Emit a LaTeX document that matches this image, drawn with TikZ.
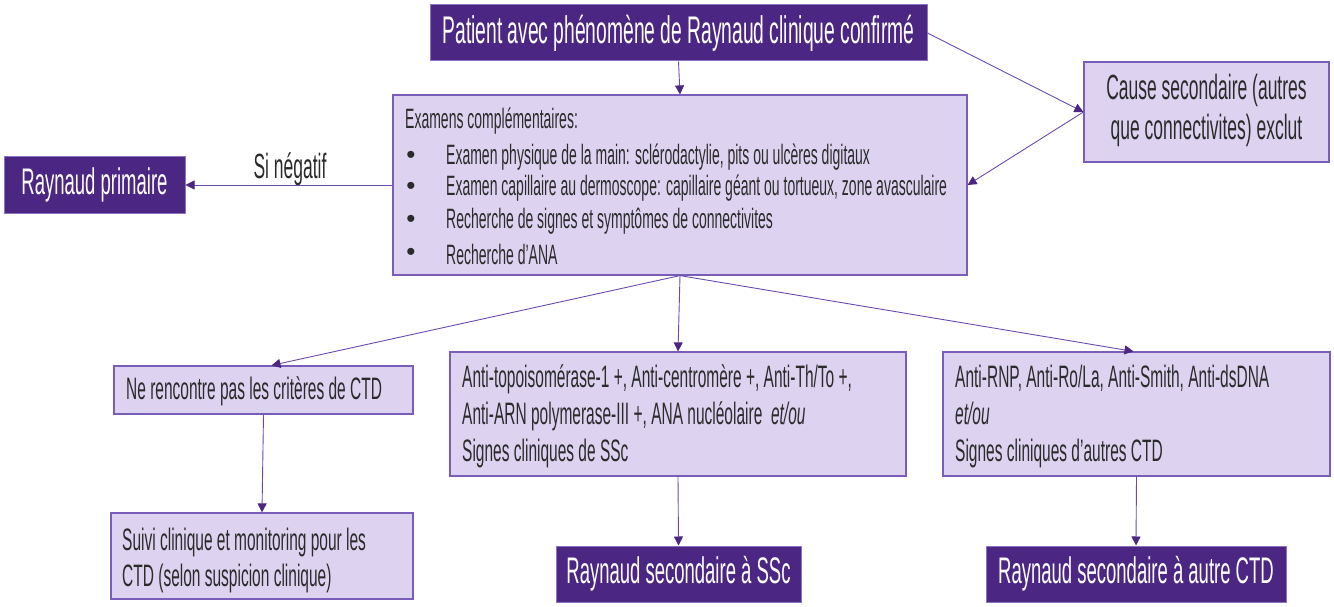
\documentclass[tikz,border=0pt]{standalone}
\usepackage{fontspec}
\setmainfont{Liberation Sans}[FakeStretch=0.5]
\newfontfamily\bulletfont{Liberation Sans}
\usetikzlibrary{arrows.meta}
\definecolor{darkP}{HTML}{4B2683}
\definecolor{borderD}{HTML}{8C74C4}
\definecolor{lightP}{HTML}{DDD3F1}
\definecolor{borderL}{HTML}{7A5DB8}
\definecolor{lineC}{HTML}{6A4BAD}
\definecolor{txtC}{HTML}{2B2B2B}
\newcommand\myfs[2]{\fontsize{#1}{#2}\selectfont}
\begin{document}
\begin{tikzpicture}[x=1pt,y=-1pt,
 darkbox/.style={draw=borderD, fill=darkP, text=white, line width=1pt, inner sep=0pt},
 lightbox/.style={draw=borderL, fill=lightP, line width=1.2pt, inner sep=0pt},
 txt/.style={text=txtC, inner sep=0pt, align=left},
 bul/.style={text=txtC, inner sep=0pt, font=\bulletfont\myfs{26}{28}},
 arr/.style={draw=lineC, line width=0.9pt, -{Triangle[length=9pt,width=9pt,color=darkP]}}]
\useasboundingbox (0,0) rectangle (1334,607);

\node[darkbox, minimum width=497pt, minimum height=56pt, font=\myfs{38.5}{40}] (top) at (678.5,33) {Patient avec phénomène de Raynaud clinique confirmé};

\node[lightbox, minimum width=245pt, minimum height=100pt] (cause) at (1206.5,112) {};
\node[txt, align=center, font=\myfs{35}{40}] (causet) at ([yshift=2pt]cause.center) {Cause secondaire (autres\\que connectivites) exclut};

\node[darkbox, minimum width=181pt, minimum height=56pt, font=\myfs{37}{40}] (prim) at (94.5,185) {Raynaud primaire};

\node[lightbox, minimum width=574pt, minimum height=180pt] (exam) at (680,185) {};
\begin{scope}[every node/.style={txt, font=\myfs{28}{30}}]
\node[anchor=west] (e0) at (405,121) {Examens complémentaires:};
\node[anchor=west] (e1) at (446,157) {Examen physique de la main: sclérodactylie, pits ou ulcères digitaux};
\node[anchor=west] (e2) at (446,188) {Examen capillaire au dermoscope: capillaire géant ou tortueux, zone avasculaire};
\node[anchor=west] (e3) at (446,221) {Recherche de signes et symptômes de connectivites};
\node[anchor=west] (e4) at (446,254) {Recherche d’ANA};
\end{scope}
\node[bul] (b1) at (411,157) {•};
\node[bul] (b2) at (411,188) {•};
\node[bul] (b3) at (411,221) {•};
\node[bul] (b4) at (411,254) {•};

\node[txt, font=\myfs{35}{40}] (si) at (290,169) {Si négatif};

\node[lightbox, minimum width=299pt, minimum height=48pt] (ne) at (263.5,390) {};
\node[txt, anchor=west, font=\myfs{31}{36}] (net) at (126,391) {Ne rencontre pas les critères de CTD};

\node[lightbox, minimum width=302pt, minimum height=86pt] (suivi) at (262,556) {};
\node[txt, anchor=west, font=\myfs{31}{36}] (suivit) at (122,560) {Suivi clinique et monitoring pour les\\CTD (selon suspicion clinique)};

\node[lightbox, minimum width=456pt, minimum height=124pt] (topo) at (678,414) {};
\node[txt, anchor=west, font=\myfs{31}{37}] (topot) at (462,416) {Anti-topoisomérase-1 +, Anti-centromère +, Anti-Th/To +,\\Anti-ARN polymerase-III +, ANA nucléolaire \ \textit{et/ou}\\Signes cliniques de SSc};

\node[darkbox, minimum width=245pt, minimum height=56pt, font=\myfs{37}{40}] (ssc) at (678.5,574) {Raynaud secondaire à SSc};

\node[lightbox, minimum width=387pt, minimum height=124pt] (rnp) at (1136.5,414) {};
\node[txt, anchor=west, font=\myfs{31}{37}] (rnpt) at (955,416) {Anti-RNP, Anti-Ro/La, Anti-Smith, Anti-dsDNA\\\textit{et/ou}\\Signes cliniques d’autres CTD};

\node[darkbox, minimum width=300pt, minimum height=56pt, font=\myfs{37}{40}] (autre) at (1136,574) {Raynaud secondaire à autre CTD};

\draw[arr] (top.south) -- (exam.north);
\draw[arr] (top.east) -- (cause.west);
\draw[arr] (cause.west) -- (exam.east);
\draw[arr] (exam.west) -- (prim.east);
\draw[arr] (exam.south) -- ([xshift=8pt]ne.north);
\draw[arr] (exam.south) -- (topo.north);
\draw[arr] (exam.south) -- ([xshift=-3pt]rnp.north);
\draw[arr] (ne.south) -- (suivi.north);
\draw[arr] (topo.south) -- (ssc.north);
\draw[arr] (rnp.south) -- (autre.north);
\end{tikzpicture}
\end{document}
